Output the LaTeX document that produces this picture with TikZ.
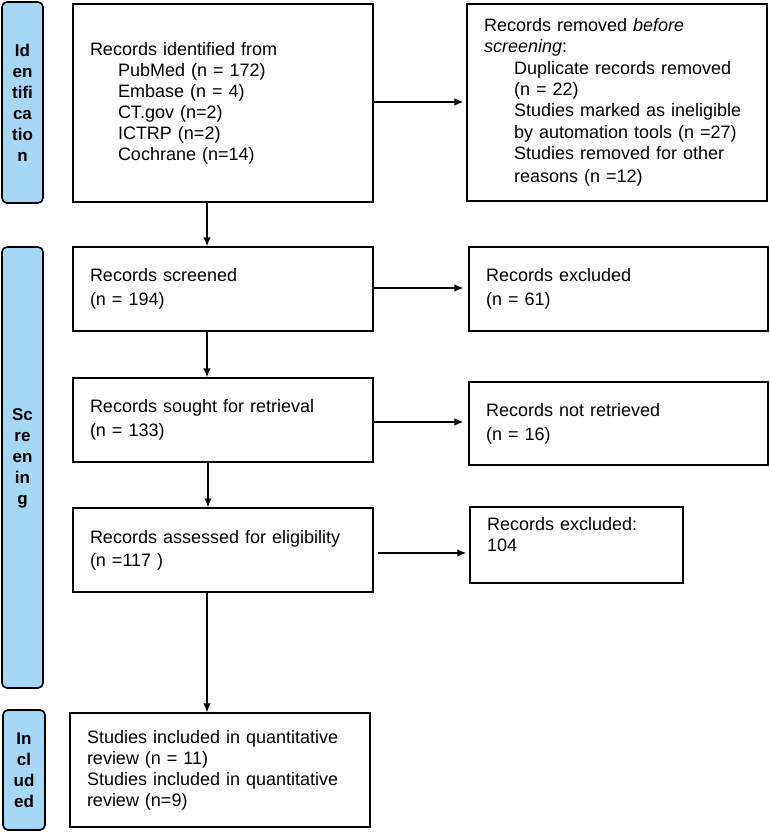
\documentclass[tikz,border=0pt]{standalone}
\usepackage{fontspec}
\setmainfont{Liberation Sans}
\usetikzlibrary{arrows.meta}
\definecolor{sidebl}{RGB}{166,216,246}
\tikzset{
  sidebar/.style={draw=black, line width=1.6pt, fill=sidebl, rounded corners=5pt,
    font=\fontsize{17}{21}\selectfont\bfseries, align=center, inner sep=0pt},
  flowbox/.style={draw=black, line width=1.3pt, font=\fontsize{18}{21}\selectfont,
    align=left, inner xsep=17pt, inner ysep=0pt},
  arr/.style={line width=1.3pt, -{Latex[length=9pt,width=7.5pt]}},
}
\newcommand{\ind}{\hspace*{28pt}}
\begin{document}
\begin{tikzpicture}[x=1pt,y=-1pt]
\useasboundingbox[fill=white] (0,0) rectangle (769,832);

% side bars
\node[sidebar, minimum width=41pt, minimum height=201pt] (side1) at (22.5,102.5)
  {Id\\en\\tifi\\ca\\tio\\n};
\node[sidebar, minimum width=41pt, minimum height=441pt] (side2) at (22.5,467.5) {};
\node[font=\fontsize{17}{21}\selectfont\bfseries, align=center, inner sep=0pt] (side2t)
  at (22.5,458) {Sc\\re\\en\\in\\g};
\node[sidebar, minimum width=42pt, minimum height=120pt] (side3) at (24,770)
  {In\\cl\\ud\\ed};

% main column
\node[flowbox, text width=266pt, minimum height=198pt] (id) at (223,103)
  {Records identified from\\
   \ind PubMed (n = 172)\\
   \ind Embase (n = 4)\\
   \ind CT.gov (n=2)\\
   \ind ICTRP (n=2)\\
   \ind Cochrane (n=14)};
\node[flowbox, text width=266pt, minimum height=197pt, font=\fontsize{18}{21.3}\selectfont] (rem) at (617,102.5)
  {Records removed \textit{before}\\
   \textit{screening}:\\
   \hspace*{30pt}Duplicate records removed\\
   \hspace*{30pt}(n = 22)\\
   \hspace*{30pt}Studies marked as ineligible\\
   \hspace*{30pt}by automation tools (n =27)\\
   \hspace*{30pt}Studies removed for other\\[2pt]
   \hspace*{30pt}reasons (n =12)};

\node[flowbox, text width=266pt, minimum height=84pt, font=\fontsize{18}{24}\selectfont] (scr) at (223,289)
  {Records screened\\(n = 194)};
\node[flowbox, text width=265pt, minimum height=84pt, font=\fontsize{18}{24}\selectfont] (exc1) at (618.5,289)
  {Records excluded\\(n = 61)};

\node[flowbox, text width=266pt, minimum height=84pt, font=\fontsize{18}{24}\selectfont] (sou) at (223,420)
  {Records sought for retrieval\\(n = 133)};
\node[flowbox, text width=265pt, minimum height=83pt, font=\fontsize{18}{24}\selectfont] (nret) at (618.5,423.5)
  {Records not retrieved\\(n = 16)};

\node[flowbox, text width=266pt, minimum height=84pt, font=\fontsize{18}{23}\selectfont] (ass) at (223,550)
  {Records assessed for eligibility\\(n =117 )};
\node[flowbox, text width=179pt, minimum height=76pt, font=\fontsize{18}{21}\selectfont] (exc2) at (576.5,545)
  {Records excluded:\\104\\~};

\node[flowbox, text width=266pt, minimum height=114pt] (inc) at (220,770)
  {Studies included in quantitative\\
   review (n = 11)\\
   Studies included in quantitative\\
   review (n=9)};

% vertical arrows
\draw[arr] ([xshift=-16pt]id.south) -- ([xshift=-16pt]id.south |- scr.north);
\draw[arr] ([xshift=-16pt]scr.south) -- ([xshift=-16pt]scr.south |- sou.north);
\draw[arr] ([xshift=-15pt]sou.south) -- ([xshift=-15pt]sou.south |- ass.north);
\draw[arr] ([xshift=-16pt]ass.south) -- ([xshift=-16pt]ass.south |- inc.north);

% horizontal arrows
\draw[arr, shorten >=3pt] ([yshift=1pt]id.east) -- ([yshift=1pt]id.east -| rem.west);
\draw[arr, shorten >=5pt] ([yshift=1pt]scr.east) -- ([yshift=1pt]scr.east -| exc1.west);
\draw[arr, shorten >=5pt] ([yshift=-2pt]sou.east) -- ([yshift=-2pt]sou.east -| nret.west);
\draw[arr, shorten <=4pt, shorten >=3pt] ([yshift=-3pt]ass.east) -- ([yshift=-3pt]ass.east -| exc2.west);
\end{tikzpicture}
\end{document}
